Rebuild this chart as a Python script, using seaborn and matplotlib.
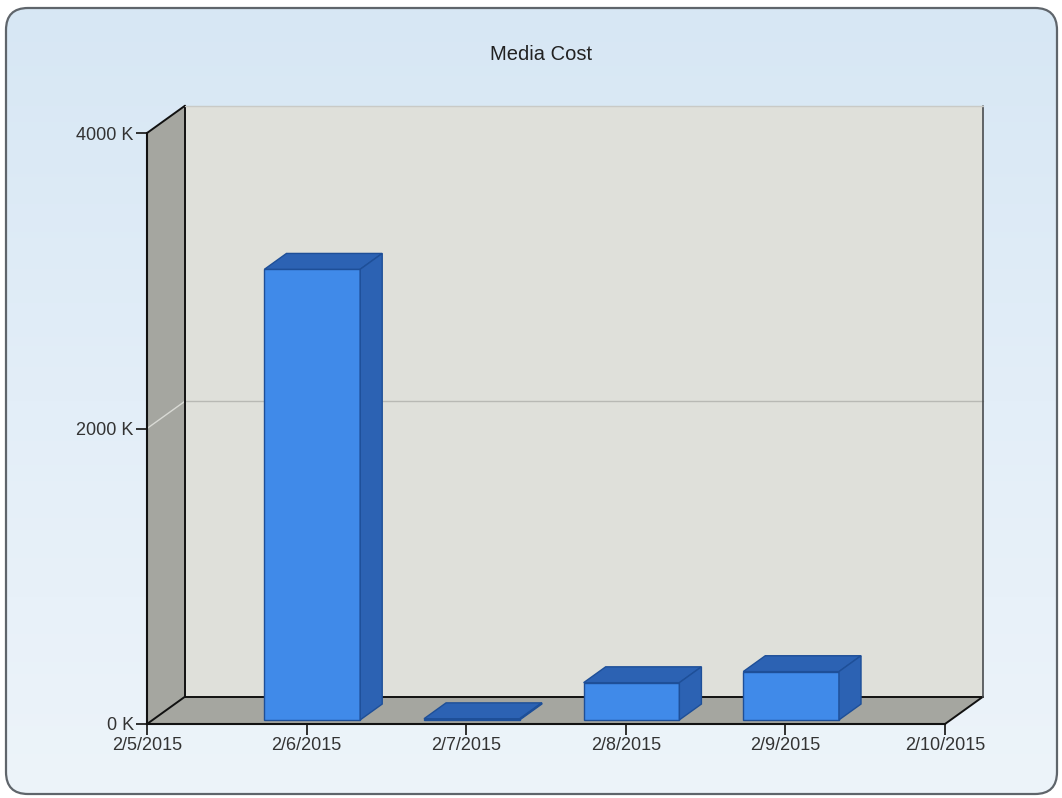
import numpy as np
import pandas as pd
import seaborn as sns
import matplotlib
matplotlib.use("Agg")
import matplotlib.pyplot as plt
from matplotlib.patches import Polygon, Rectangle, FancyBboxPatch
from matplotlib.colors import LinearSegmentedColormap

# ---- data ----
dates_all = ["2/5/2015", "2/6/2015", "2/7/2015", "2/8/2015", "2/9/2015", "2/10/2015"]
bar_dates = ["2/6/2015", "2/7/2015", "2/8/2015", "2/9/2015"]
media_cost_k = [3050, 8, 252, 327]
y_ticks = [0, 2000, 4000]
y_tick_labels = ["0 K", "2000 K", "4000 K"]
title = "Media Cost"

sns.set_theme(style="white")
plt.rcParams['font.family'] = ['Liberation Sans', 'DejaVu Sans']

W, H = 1062, 798
fig = plt.figure(figsize=(W / 100, H / 100), dpi=100)
fig.patch.set_facecolor('white')

# ---- background panel with gradient ----
bg = fig.add_axes([0, 0, 1, 1], zorder=0)
bg.set_xlim(0, W)
bg.set_ylim(H, 0)
bg.axis('off')
cmap = LinearSegmentedColormap.from_list('bg', ['#d7e7f4', '#e3eef8', '#edf4fa'])
grad = np.linspace(0, 1, 256)[:, None]
im = bg.imshow(grad, extent=[6, W - 5, H - 4, 8], cmap=cmap, aspect='auto', zorder=0)
panel = FancyBboxPatch((6, 8), W - 11, H - 12,
                       boxstyle="round,pad=0,rounding_size=22",
                       fc='none', ec='#5f656b', lw=1.6, zorder=1)
bg.add_patch(panel)
im.set_clip_path(panel)

# ---- main axes ----
n_slots = len(dates_all) - 1
ymax = y_ticks[-1]
DX = 38 / 159.6          # depth offset in x data units
DY = 185                 # depth offset in y data units (K)
F0 = 0.15                # front offset fraction of bars within depth
FD = 0.58                # bar depth fraction

ax = fig.add_axes([147 / W, (H - 724) / H, 836 / W, (724 - 105.7) / H], zorder=1)
ax.patch.set_alpha(0)

sns.barplot(x=bar_dates, y=media_cost_k, order=dates_all, width=0.6,
            color='#408ae9', saturation=1, edgecolor='#1e4f98', linewidth=1.0,
            ax=ax, zorder=3)

bars = list(ax.patches)
side_col = '#2c62b3'
for p in bars:
    x0 = p.get_x() + F0 * DX
    y0 = F0 * DY
    w = p.get_width()
    h = p.get_height()
    p.set_x(x0)
    p.set_y(y0)
    p.set_zorder(3)
    ddx, ddy = FD * DX, FD * DY
    top = Polygon([(x0, y0 + h), (x0 + w, y0 + h), (x0 + w + ddx, y0 + h + ddy),
                   (x0 + ddx, y0 + h + ddy)], closed=True,
                  fc=side_col, ec='#1e4f98', lw=1.0, zorder=3)
    side = Polygon([(x0 + w, y0), (x0 + w + ddx, y0 + ddy), (x0 + w + ddx, y0 + h + ddy),
                    (x0 + w, y0 + h)], closed=True,
                   fc=side_col, ec='#1e4f98', lw=1.0, zorder=3)
    ax.add_patch(top)
    ax.add_patch(side)

wall_col = '#a5a6a0'
back_col = '#dfe0da'
# walls
ax.add_patch(Rectangle((DX, DY), n_slots, ymax, fc=back_col, ec='none', zorder=0.5, clip_on=False))
ax.add_patch(Polygon([(0, 0), (0, ymax), (DX, ymax + DY), (DX, DY)], closed=True,
                     fc=wall_col, ec='none', zorder=0.5, clip_on=False))
ax.add_patch(Polygon([(0, 0), (n_slots, 0), (n_slots + DX, DY), (DX, DY)], closed=True,
                     fc=wall_col, ec='none', zorder=0.5, clip_on=False))
# gridlines
for t in y_ticks[1:-1]:
    ax.plot([0, DX], [t, t + DY], color='#d9dad5', lw=1, zorder=0.6, clip_on=False)
    ax.plot([DX, n_slots + DX], [t + DY, t + DY], color='#b8b9b4', lw=1, zorder=0.6, clip_on=False)
# edges
k = dict(color='#111111', lw=1.4, zorder=0.7, clip_on=False)
ax.plot([0, DX], [ymax, ymax + DY], **k)
ax.plot([0, DX], [0, DY], **k)
ax.plot([DX, DX], [DY, ymax + DY], **k)
ax.plot([DX, n_slots + DX], [DY, DY], **k)
ax.plot([n_slots, n_slots + DX], [0, DY], **k)
ax.plot([n_slots + DX, n_slots + DX], [DY, ymax + DY], color='#4a4d50', lw=1.2, zorder=0.7, clip_on=False)
ax.plot([DX, n_slots + DX], [ymax + DY, ymax + DY], color='#c9cac6', lw=1.0, zorder=0.7, clip_on=False)

ax.set_xlim(0, n_slots + DX)
ax.set_ylim(0, ymax + DY)
ax.set_xticks(range(len(dates_all)))
ax.set_xticklabels(dates_all)
ax.set_yticks(y_ticks)
ax.set_yticklabels(y_tick_labels)
ax.set_xlabel('')
ax.set_ylabel('')
for s in ['top', 'right']:
    ax.spines[s].set_visible(False)
ax.spines['left'].set_bounds(0, ymax)
ax.spines['bottom'].set_bounds(0, n_slots)
for s in ['left', 'bottom']:
    ax.spines[s].set_color('#111111')
    ax.spines[s].set_linewidth(1.5)
    ax.spines[s].set_zorder(4)
ax.tick_params(axis='both', which='major', direction='out', length=8, width=1.3,
               color='#222222', labelsize=13, labelcolor='#333333', pad=1.5,
               bottom=True, left=True)
ax.grid(False)

fig.text(541 / W, 1 - 55 / H, title, ha='center', va='center', fontsize=14.5, color='#222222')

fig.savefig('out.png', dpi=100)
